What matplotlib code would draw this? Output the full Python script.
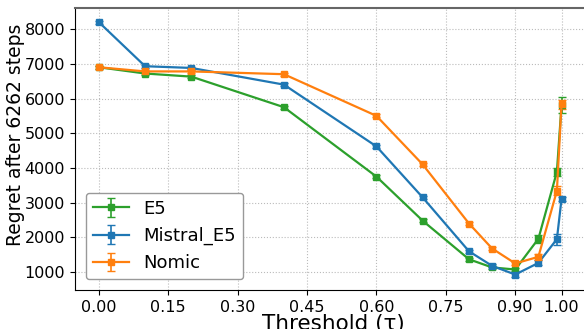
import matplotlib
matplotlib.use("Agg")
import matplotlib.pyplot as plt

thresholds = [0.0, 0.1, 0.2, 0.4, 0.6, 0.7, 0.8, 0.85, 0.9, 0.95, 0.99, 1.0]

e5_mean = [6900, 6720, 6630, 5750, 3750, 2480, 1370, 1135, 1075, 1960, 3890, 5800]
e5_err = [40, 40, 40, 40, 40, 50, 40, 40, 40, 110, 110, 230]

mistral_mean = [8200, 6930, 6880, 6400, 4620, 3150, 1600, 1180, 930, 1265, 1950, 3100]
mistral_err = [40, 40, 40, 40, 40, 40, 40, 40, 60, 70, 160, 60]

nomic_mean = [6900, 6780, 6780, 6700, 5500, 4100, 2400, 1680, 1250, 1440, 3340, 5830]
nomic_err = [40, 40, 40, 40, 40, 40, 40, 40, 40, 80, 130, 130]

x_ticks = [0.0, 0.15, 0.30, 0.45, 0.60, 0.75, 0.90, 1.00]
y_ticks = [1000, 2000, 3000, 4000, 5000, 6000, 7000, 8000]

fig = plt.figure(figsize=(5.84, 3.29), dpi=100)
ax = fig.add_axes([0.128, 0.118, 0.885, 0.857])

series = [
    ("E5", e5_mean, e5_err, "#2ca02c"),
    ("Mistral_E5", mistral_mean, mistral_err, "#1f77b4"),
    ("Nomic", nomic_mean, nomic_err, "#ff7f0e"),
]
for label, mean, err, color in series:
    ax.errorbar(thresholds, mean, yerr=err, label=label, color=color,
                marker="s", markersize=4.5, linewidth=1.6, capsize=3,
                elinewidth=1.2)

ax.set_xlim(-0.052, 1.065)
ax.set_ylim(480, 8600)
ax.set_xticks(x_ticks)
ax.set_xticklabels([f"{t:.2f}" for t in x_ticks])
ax.set_yticks(y_ticks)
ax.tick_params(labelsize=11.5)
ax.grid(True, linestyle=":", color="#bbbbbb", linewidth=0.8)
ax.set_xlabel("Threshold (τ)", fontsize=15.5, labelpad=-1)
ax.set_ylabel("Regret after 6262 steps", fontsize=13.5)
ax.yaxis.set_label_coords(-0.096, 0.55)
ax.spines["top"].set_color("#666666")
ax.spines["top"].set_linewidth(1.5)
ax.spines["right"].set_visible(False)

ax.legend(loc="lower left", fontsize=13, handlelength=2.0,
          borderaxespad=0.6, framealpha=1, edgecolor="#999999")

fig.savefig("out.png", dpi=100)
